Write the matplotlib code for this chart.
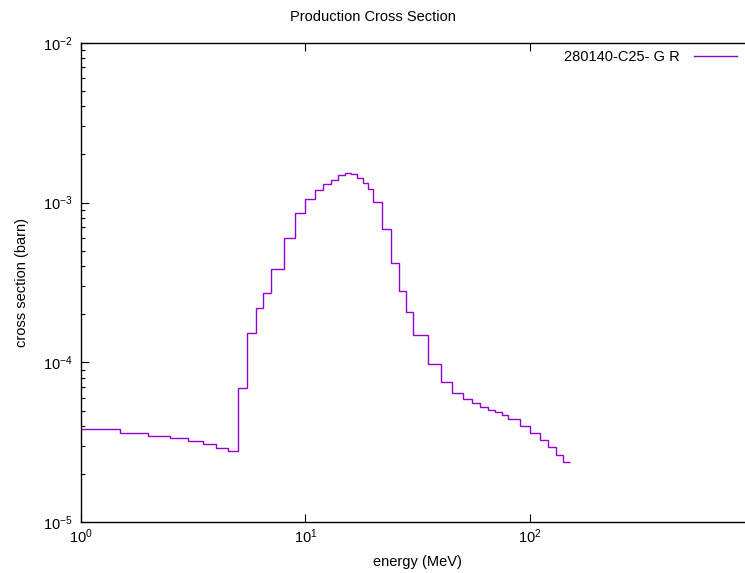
import matplotlib

matplotlib.use("Agg")
import matplotlib.pyplot as plt
from matplotlib.ticker import LogLocator, NullLocator, FixedLocator

# bin edges (MeV) and production cross section (barn) per bin
EDGES = [1, 1.5, 2, 2.5, 3, 3.5, 4, 4.5, 5, 5.5, 6, 6.5, 7,
         8, 9, 10, 11, 12, 13, 14, 15, 16, 17, 18, 19, 20,
         22, 24, 26, 28, 30, 35, 40, 45, 50, 55, 60, 65, 70, 75, 80,
         90, 100, 110, 120, 130, 140, 150]
XS = [3.83e-5, 3.62e-5, 3.48e-5, 3.38e-5, 3.24e-5, 3.09e-5, 2.92e-5, 2.78e-5,
      6.88e-5, 1.52e-4, 2.20e-4, 2.70e-4,
      3.85e-4, 5.99e-4, 8.59e-4, 1.05e-3, 1.20e-3, 1.31e-3, 1.39e-3, 1.48e-3,
      1.53e-3, 1.50e-3, 1.42e-3, 1.33e-3, 1.22e-3,
      1.01e-3, 6.82e-4, 4.20e-4, 2.78e-4, 2.07e-4,
      1.48e-4, 9.81e-5, 7.54e-5, 6.47e-5, 5.87e-5, 5.54e-5, 5.26e-5, 5.06e-5,
      4.90e-5, 4.69e-5,
      4.40e-5, 3.98e-5, 3.60e-5, 3.29e-5, 2.96e-5, 2.65e-5, 2.39e-5]
XTICKS = [1, 10, 100]
LABEL = "280140-C25- G R"
COLOR = "#9400d3"

plt.rcParams.update({
    "font.family": ["Liberation Sans", "DejaVu Sans"], "font.size": 10.5,
    "axes.linewidth": 1.0, "mathtext.fontset": "custom",
    "mathtext.rm": "Liberation Sans", "mathtext.it": "Liberation Sans",
})

W, H = 745, 573
fig = plt.figure(figsize=(W / 100, H / 100), dpi=100)
# axes run 1..1000 MeV; the right end lies just past the image edge
x0, x1, y0, y1 = 80.7, 755.0, 522.3, 42.7
ax = fig.add_axes([x0 / W, 1 - y0 / H, (x1 - x0) / W, (y0 - y1) / H])

ax.stairs(XS, EDGES, baseline=None, color=COLOR, linewidth=1.0, label=LABEL)

ax.set_xscale("log")
ax.set_yscale("log")
ax.set_xlim(1, 1000)
ax.set_ylim(1e-5, 1e-2)
ax.xaxis.set_major_locator(FixedLocator(XTICKS))
ax.xaxis.set_minor_locator(NullLocator())
ax.yaxis.set_minor_locator(LogLocator(base=10, subs=range(2, 10)))
ax.tick_params(which="both", direction="in", top=True, right=True)
ax.tick_params(which="major", length=6, width=0.8, pad=6)
ax.tick_params(axis="x", which="major", pad=4)
ax.tick_params(which="minor", length=3, width=0.8)

ax.set_xlabel("energy (MeV)", labelpad=6)
ax.set_ylabel("cross section (barn)", labelpad=10)
fig.text(0.5, 1 - 17 / H, "Production Cross Section", ha="center", va="center")

ax.legend(loc="upper right", bbox_to_anchor=(737 / W, 1 - 50 / H),
          bbox_transform=fig.transFigure, frameon=False, markerfirst=False,
          handlelength=2.95, borderpad=0, borderaxespad=0, handletextpad=1.0)

fig.savefig("out.png", dpi=100)
